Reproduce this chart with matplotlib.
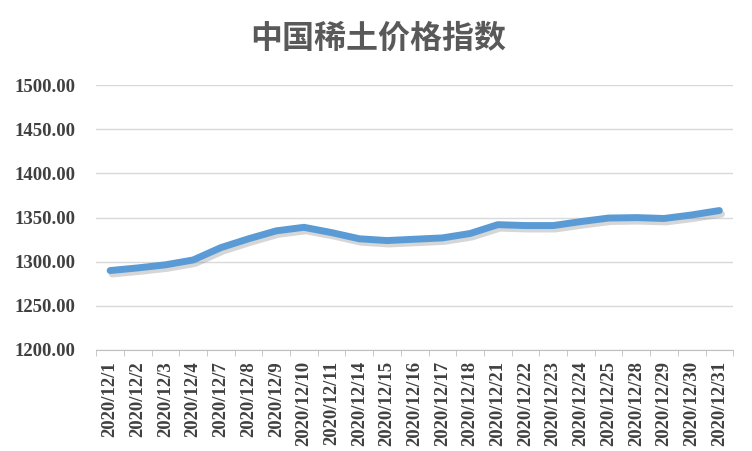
import matplotlib
matplotlib.use("Agg")
import matplotlib.pyplot as plt
import matplotlib.patheffects as pe
import numpy as np

# --- Data

dates = ["2020/12/1", "2020/12/2", "2020/12/3", "2020/12/4", "2020/12/7",
         "2020/12/8", "2020/12/9", "2020/12/10", "2020/12/11", "2020/12/14",
         "2020/12/15", "2020/12/16", "2020/12/17", "2020/12/18", "2020/12/21",
         "2020/12/22", "2020/12/23", "2020/12/24", "2020/12/25", "2020/12/28",
         "2020/12/29", "2020/12/30", "2020/12/31"]
index_values = [1290, 1293, 1296.5, 1302, 1316, 1326, 1335, 1339, 1333,
                1326, 1324, 1325.5, 1327, 1332, 1342, 1341, 1341, 1345.5,
                1349.5, 1350, 1349, 1353, 1358]
y_ticks = [1200, 1250, 1300, 1350, 1400, 1450, 1500]

# --- Figure

fig = plt.figure(figsize=(7.52, 4.51), dpi=100)
ax = fig.add_axes([0.128, 0.224, 0.847, 0.587])

x = np.arange(len(dates))
ax.plot(x, index_values, color="#5b9bd5", lw=5.0, solid_capstyle="round",
        solid_joinstyle="round",
        path_effects=[pe.SimpleLineShadow(offset=(1.5, -2.5), shadow_color="#9a9a9a",
                                          alpha=0.4),
                      pe.Normal()])

ax.set_xlim(-0.5, len(dates) - 0.5)
ax.set_ylim(1200, 1500)
ax.set_yticks(y_ticks)
ax.set_yticklabels([f"{v:.2f}" for v in y_ticks])
ax.grid(axis="y", color="#d9d9d9", lw=1)
ax.set_axisbelow(True)

ax.set_xticks(x)
ax.set_xticklabels(dates, rotation=90, va="top", ha="center")
ax.set_xticks(np.arange(-0.5, len(dates)), minor=True)
ax.tick_params(axis="x", which="major", length=0, pad=8)
ax.tick_params(axis="x", which="minor", length=4, color="#bfbfbf")
ax.tick_params(axis="y", length=0, pad=15)

for lab in ax.get_xticklabels() + ax.get_yticklabels():
    lab.set_fontfamily("Liberation Serif")
    lab.set_fontweight("bold")
    lab.set_color("#404040")
for lab in ax.get_yticklabels():
    lab.set_fontsize(13.5)
for lab in ax.get_xticklabels():
    lab.set_fontsize(13.5)

for side in ["top", "right", "left"]:
    ax.spines[side].set_visible(False)
ax.spines["bottom"].set_color("#bfbfbf")

fig.text(0.503, 0.915, "中国稀土价格指数", ha="center", va="center",
         fontsize=23, color="#595959", fontweight="bold",
         family=["Noto Sans CJK SC", "DejaVu Sans"])

fig.savefig("out.png", dpi=100, facecolor="white")
